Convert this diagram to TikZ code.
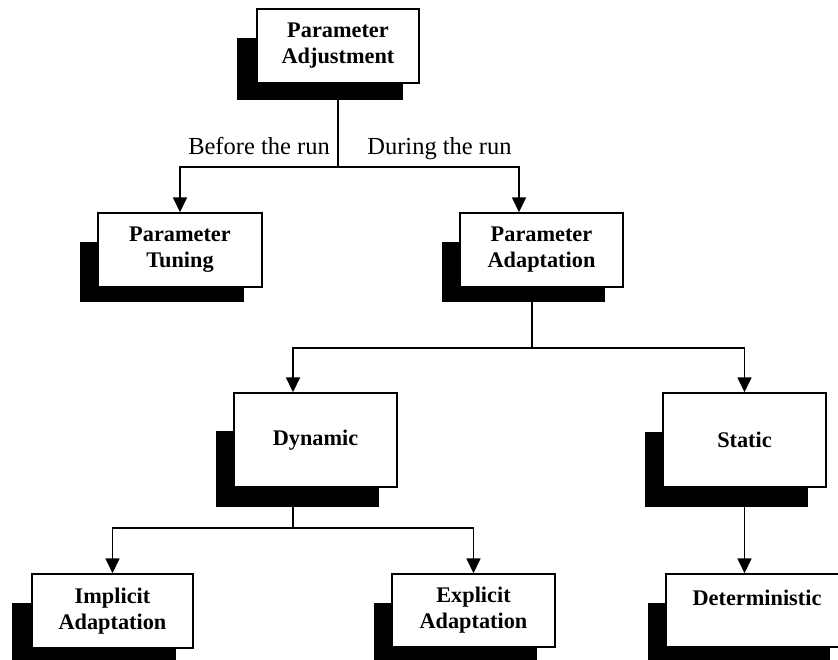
\documentclass[tikz,border=0pt]{standalone}
\usepackage{fontspec}
\setmainfont{Liberation Serif}
\usetikzlibrary{arrows.meta,calc}
\begin{document}
\begin{tikzpicture}[x=1pt,y=-1pt,
  box/.style={draw=black, line width=1.4pt, fill=white, align=center,
    font=\fontsize{22.3}{26}\selectfont\bfseries, inner sep=0pt},
  shadowbox/.style={fill=black, draw=none, inner sep=0pt},
  conn/.style={line width=1.6pt},
  arr/.style={conn, -{Triangle[length=15pt,width=14pt]}},
  lbl/.style={font=\fontsize{24.5}{28}\selectfont, inner sep=0pt, anchor=base}]
\useasboundingbox (0,0) rectangle (838,660);
\clip (0,0) rectangle (838,660);
% shadows
\node[shadowbox, minimum width=166pt, minimum height=62pt] (PAs) at (320,69) {};
\node[shadowbox, minimum width=164pt, minimum height=60pt] (PTs) at (162,272) {};
\node[shadowbox, minimum width=163pt, minimum height=60pt] (PAds) at (523.5,272) {};
\node[shadowbox, minimum width=163pt, minimum height=76pt] (Dyns) at (297.5,469) {};
\node[shadowbox, minimum width=163pt, minimum height=75pt] (Stas) at (726.5,469.5) {};
\node[shadowbox, minimum width=164pt, minimum height=61pt] (Imps) at (94,633.5) {};
\node[shadowbox, minimum width=163pt, minimum height=61pt] (Exps) at (455.5,633.5) {};
\node[shadowbox, minimum width=182pt, minimum height=61pt] (Dets) at (739,633.5) {};
% boxes
\node[box, minimum width=162pt, minimum height=74pt] (PA) at (338,46) {Parameter\\Adjustment};
\node[box, minimum width=164pt, minimum height=74pt] (PT) at (180,250) {Parameter\\Tuning};
\node[box, minimum width=163pt, minimum height=74pt] (PAd) at (541.5,250) {Parameter\\Adaptation};
\node[box, minimum width=163pt, minimum height=94pt] (Dyn) at (315.5,440) {Dynamic};
\node[box, minimum width=163pt, minimum height=94pt] (Sta) at (744.5,440) {Static};
\node[box, minimum width=161pt, minimum height=74pt] (Imp) at (112.5,611) {Implicit\\Adaptation};
\node[box, minimum width=163pt, minimum height=73pt] (Exp) at (473.5,610.5) {Explicit\\Adaptation};
\node[box, minimum width=182pt, minimum height=73pt] (Det) at (757,610.5) {Deterministic\\\mbox{}};
% junctions
\coordinate (j1) at (338,167);
\coordinate (j2) at (532,348);
\coordinate (j3) at (293,528);
% connectors
\draw[conn] (PA.south |- PAs.south) -- (j1);
\draw[arr] (j1) -| (PT.north);
\draw[arr] (j1) -| ([xshift=-22.5pt]PAd.north);
\draw[conn] (j2 |- PAds.south) -- (j2);
\draw[arr] (j2) -| ([xshift=-22.5pt]Dyn.north);
\draw[arr] (j2) -| (Sta.north);
\draw[conn] (j3 |- Dyns.south) -- (j3);
\draw[arr] (j3) -| (Imp.north);
\draw[arr] (j3) -| (Exp.north);
\draw[arr] (Sta.south |- Stas.south) -- (Sta.south |- Det.north);
% labels
\node[lbl] (lb) at (259,155) {Before the run};
\node[lbl] (ld) at (439.5,155) {During the run};
\end{tikzpicture}
\end{document}
